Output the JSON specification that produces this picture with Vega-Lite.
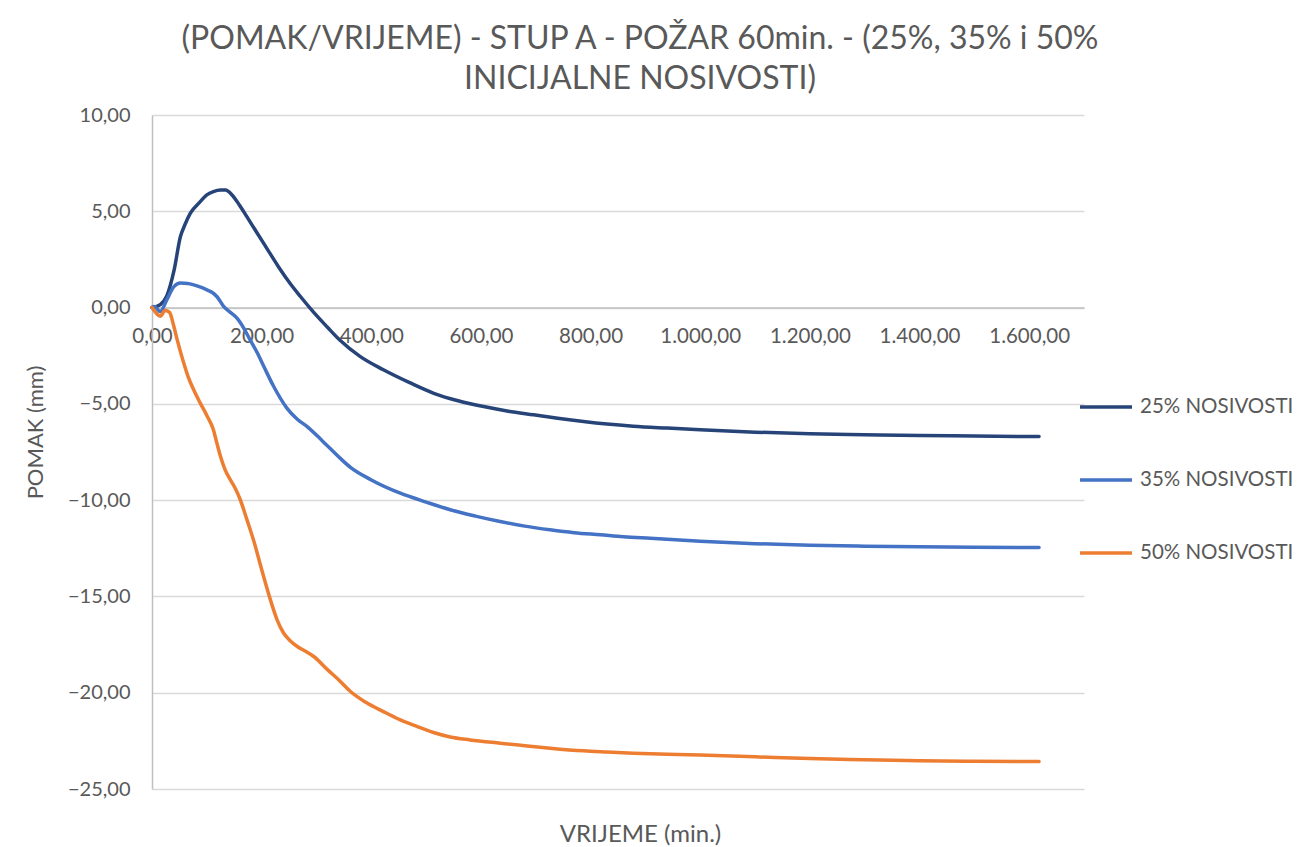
{
  "$schema": "https://vega.github.io/schema/vega-lite/v6.json",
  "width": 932,
  "height": 674,
  "autosize": {"type": "none"},
  "padding": {"left": 152, "top": 115, "right": 223, "bottom": 58},
  "background": "white",
  "config": {
    "locale": {"number": {"decimal": ",", "thousands": ".", "grouping": [3], "currency": ["", " €"]}},
    "font": "Lato",
    "view": {"stroke": null}
  },
  "title": {
    "text": ["(POMAK/VRIJEME) - STUP A - POŽAR 60min. - (25%, 35% i 50%", "INICIJALNE NOSIVOSTI)"],
    "font": "Lato",
    "fontSize": 32,
    "fontWeight": "normal",
    "color": "#595959",
    "anchor": "middle",
    "dx": 22,
    "lineHeight": 40,
    "offset": 9
  },
  "data": {
    "values": [
      {"t": 0, "v": 0, "s": "25% NOSIVOSTI"},
      {"t": 8, "v": 0.05, "s": "25% NOSIVOSTI"},
      {"t": 15, "v": 0.15, "s": "25% NOSIVOSTI"},
      {"t": 27, "v": 0.6, "s": "25% NOSIVOSTI"},
      {"t": 40, "v": 1.9, "s": "25% NOSIVOSTI"},
      {"t": 52, "v": 3.7, "s": "25% NOSIVOSTI"},
      {"t": 60, "v": 4.3, "s": "25% NOSIVOSTI"},
      {"t": 70, "v": 4.9, "s": "25% NOSIVOSTI"},
      {"t": 88, "v": 5.5, "s": "25% NOSIVOSTI"},
      {"t": 100, "v": 5.85, "s": "25% NOSIVOSTI"},
      {"t": 112, "v": 6.02, "s": "25% NOSIVOSTI"},
      {"t": 125, "v": 6.1, "s": "25% NOSIVOSTI"},
      {"t": 134, "v": 6.1, "s": "25% NOSIVOSTI"},
      {"t": 146, "v": 5.85, "s": "25% NOSIVOSTI"},
      {"t": 160, "v": 5.3, "s": "25% NOSIVOSTI"},
      {"t": 173, "v": 4.72, "s": "25% NOSIVOSTI"},
      {"t": 190, "v": 3.95, "s": "25% NOSIVOSTI"},
      {"t": 210, "v": 3.05, "s": "25% NOSIVOSTI"},
      {"t": 230, "v": 2.15, "s": "25% NOSIVOSTI"},
      {"t": 252, "v": 1.25, "s": "25% NOSIVOSTI"},
      {"t": 270, "v": 0.6, "s": "25% NOSIVOSTI"},
      {"t": 295, "v": -0.25, "s": "25% NOSIVOSTI"},
      {"t": 320, "v": -1.02, "s": "25% NOSIVOSTI"},
      {"t": 343, "v": -1.7, "s": "25% NOSIVOSTI"},
      {"t": 380, "v": -2.55, "s": "25% NOSIVOSTI"},
      {"t": 422, "v": -3.23, "s": "25% NOSIVOSTI"},
      {"t": 470, "v": -3.9, "s": "25% NOSIVOSTI"},
      {"t": 514, "v": -4.45, "s": "25% NOSIVOSTI"},
      {"t": 560, "v": -4.85, "s": "25% NOSIVOSTI"},
      {"t": 605, "v": -5.14, "s": "25% NOSIVOSTI"},
      {"t": 650, "v": -5.38, "s": "25% NOSIVOSTI"},
      {"t": 696, "v": -5.57, "s": "25% NOSIVOSTI"},
      {"t": 740, "v": -5.75, "s": "25% NOSIVOSTI"},
      {"t": 787, "v": -5.92, "s": "25% NOSIVOSTI"},
      {"t": 830, "v": -6.05, "s": "25% NOSIVOSTI"},
      {"t": 878, "v": -6.16, "s": "25% NOSIVOSTI"},
      {"t": 940, "v": -6.26, "s": "25% NOSIVOSTI"},
      {"t": 1000, "v": -6.35, "s": "25% NOSIVOSTI"},
      {"t": 1100, "v": -6.47, "s": "25% NOSIVOSTI"},
      {"t": 1200, "v": -6.55, "s": "25% NOSIVOSTI"},
      {"t": 1300, "v": -6.6, "s": "25% NOSIVOSTI"},
      {"t": 1400, "v": -6.64, "s": "25% NOSIVOSTI"},
      {"t": 1500, "v": -6.67, "s": "25% NOSIVOSTI"},
      {"t": 1618, "v": -6.7, "s": "25% NOSIVOSTI"},

      {"t": 0, "v": 0, "s": "35% NOSIVOSTI"},
      {"t": 4, "v": 0.05, "s": "35% NOSIVOSTI"},
      {"t": 15, "v": -0.2, "s": "35% NOSIVOSTI"},
      {"t": 27, "v": 0.4, "s": "35% NOSIVOSTI"},
      {"t": 40, "v": 1.09, "s": "35% NOSIVOSTI"},
      {"t": 52, "v": 1.27, "s": "35% NOSIVOSTI"},
      {"t": 65, "v": 1.25, "s": "35% NOSIVOSTI"},
      {"t": 76, "v": 1.18, "s": "35% NOSIVOSTI"},
      {"t": 90, "v": 1.05, "s": "35% NOSIVOSTI"},
      {"t": 100, "v": 0.92, "s": "35% NOSIVOSTI"},
      {"t": 110, "v": 0.78, "s": "35% NOSIVOSTI"},
      {"t": 119, "v": 0.55, "s": "35% NOSIVOSTI"},
      {"t": 131, "v": 0.05, "s": "35% NOSIVOSTI"},
      {"t": 143, "v": -0.25, "s": "35% NOSIVOSTI"},
      {"t": 155, "v": -0.55, "s": "35% NOSIVOSTI"},
      {"t": 167, "v": -1.05, "s": "35% NOSIVOSTI"},
      {"t": 179, "v": -1.68, "s": "35% NOSIVOSTI"},
      {"t": 192, "v": -2.35, "s": "35% NOSIVOSTI"},
      {"t": 204, "v": -3.06, "s": "35% NOSIVOSTI"},
      {"t": 222, "v": -4.1, "s": "35% NOSIVOSTI"},
      {"t": 246, "v": -5.22, "s": "35% NOSIVOSTI"},
      {"t": 265, "v": -5.8, "s": "35% NOSIVOSTI"},
      {"t": 283, "v": -6.18, "s": "35% NOSIVOSTI"},
      {"t": 310, "v": -6.9, "s": "35% NOSIVOSTI"},
      {"t": 343, "v": -7.82, "s": "35% NOSIVOSTI"},
      {"t": 362, "v": -8.3, "s": "35% NOSIVOSTI"},
      {"t": 400, "v": -8.95, "s": "35% NOSIVOSTI"},
      {"t": 453, "v": -9.64, "s": "35% NOSIVOSTI"},
      {"t": 500, "v": -10.1, "s": "35% NOSIVOSTI"},
      {"t": 544, "v": -10.5, "s": "35% NOSIVOSTI"},
      {"t": 590, "v": -10.83, "s": "35% NOSIVOSTI"},
      {"t": 635, "v": -11.11, "s": "35% NOSIVOSTI"},
      {"t": 680, "v": -11.35, "s": "35% NOSIVOSTI"},
      {"t": 726, "v": -11.54, "s": "35% NOSIVOSTI"},
      {"t": 770, "v": -11.69, "s": "35% NOSIVOSTI"},
      {"t": 818, "v": -11.8, "s": "35% NOSIVOSTI"},
      {"t": 860, "v": -11.9, "s": "35% NOSIVOSTI"},
      {"t": 909, "v": -11.98, "s": "35% NOSIVOSTI"},
      {"t": 1000, "v": -12.13, "s": "35% NOSIVOSTI"},
      {"t": 1100, "v": -12.26, "s": "35% NOSIVOSTI"},
      {"t": 1200, "v": -12.34, "s": "35% NOSIVOSTI"},
      {"t": 1300, "v": -12.39, "s": "35% NOSIVOSTI"},
      {"t": 1400, "v": -12.42, "s": "35% NOSIVOSTI"},
      {"t": 1500, "v": -12.45, "s": "35% NOSIVOSTI"},
      {"t": 1618, "v": -12.46, "s": "35% NOSIVOSTI"},

      {"t": 0, "v": 0, "s": "50% NOSIVOSTI"},
      {"t": 8, "v": -0.3, "s": "50% NOSIVOSTI"},
      {"t": 15, "v": -0.45, "s": "50% NOSIVOSTI"},
      {"t": 24, "v": -0.15, "s": "50% NOSIVOSTI"},
      {"t": 32, "v": -0.25, "s": "50% NOSIVOSTI"},
      {"t": 40, "v": -1.0, "s": "50% NOSIVOSTI"},
      {"t": 46, "v": -1.68, "s": "50% NOSIVOSTI"},
      {"t": 58, "v": -2.89, "s": "50% NOSIVOSTI"},
      {"t": 66, "v": -3.6, "s": "50% NOSIVOSTI"},
      {"t": 76, "v": -4.27, "s": "50% NOSIVOSTI"},
      {"t": 88, "v": -4.96, "s": "50% NOSIVOSTI"},
      {"t": 100, "v": -5.6, "s": "50% NOSIVOSTI"},
      {"t": 112, "v": -6.35, "s": "50% NOSIVOSTI"},
      {"t": 118, "v": -7.0, "s": "50% NOSIVOSTI"},
      {"t": 125, "v": -7.74, "s": "50% NOSIVOSTI"},
      {"t": 133, "v": -8.4, "s": "50% NOSIVOSTI"},
      {"t": 143, "v": -8.95, "s": "50% NOSIVOSTI"},
      {"t": 152, "v": -9.4, "s": "50% NOSIVOSTI"},
      {"t": 161, "v": -9.98, "s": "50% NOSIVOSTI"},
      {"t": 173, "v": -11.0, "s": "50% NOSIVOSTI"},
      {"t": 185, "v": -12.06, "s": "50% NOSIVOSTI"},
      {"t": 200, "v": -13.6, "s": "50% NOSIVOSTI"},
      {"t": 216, "v": -15.18, "s": "50% NOSIVOSTI"},
      {"t": 228, "v": -16.2, "s": "50% NOSIVOSTI"},
      {"t": 240, "v": -16.9, "s": "50% NOSIVOSTI"},
      {"t": 252, "v": -17.3, "s": "50% NOSIVOSTI"},
      {"t": 265, "v": -17.6, "s": "50% NOSIVOSTI"},
      {"t": 280, "v": -17.85, "s": "50% NOSIVOSTI"},
      {"t": 295, "v": -18.12, "s": "50% NOSIVOSTI"},
      {"t": 320, "v": -18.8, "s": "50% NOSIVOSTI"},
      {"t": 343, "v": -19.4, "s": "50% NOSIVOSTI"},
      {"t": 362, "v": -19.94, "s": "50% NOSIVOSTI"},
      {"t": 390, "v": -20.5, "s": "50% NOSIVOSTI"},
      {"t": 422, "v": -20.98, "s": "50% NOSIVOSTI"},
      {"t": 452, "v": -21.4, "s": "50% NOSIVOSTI"},
      {"t": 483, "v": -21.75, "s": "50% NOSIVOSTI"},
      {"t": 515, "v": -22.08, "s": "50% NOSIVOSTI"},
      {"t": 544, "v": -22.3, "s": "50% NOSIVOSTI"},
      {"t": 580, "v": -22.45, "s": "50% NOSIVOSTI"},
      {"t": 635, "v": -22.62, "s": "50% NOSIVOSTI"},
      {"t": 680, "v": -22.75, "s": "50% NOSIVOSTI"},
      {"t": 726, "v": -22.88, "s": "50% NOSIVOSTI"},
      {"t": 787, "v": -23.02, "s": "50% NOSIVOSTI"},
      {"t": 830, "v": -23.08, "s": "50% NOSIVOSTI"},
      {"t": 878, "v": -23.14, "s": "50% NOSIVOSTI"},
      {"t": 940, "v": -23.2, "s": "50% NOSIVOSTI"},
      {"t": 1000, "v": -23.24, "s": "50% NOSIVOSTI"},
      {"t": 1100, "v": -23.33, "s": "50% NOSIVOSTI"},
      {"t": 1200, "v": -23.42, "s": "50% NOSIVOSTI"},
      {"t": 1300, "v": -23.48, "s": "50% NOSIVOSTI"},
      {"t": 1400, "v": -23.53, "s": "50% NOSIVOSTI"},
      {"t": 1500, "v": -23.56, "s": "50% NOSIVOSTI"},
      {"t": 1618, "v": -23.57, "s": "50% NOSIVOSTI"}
    ]
  },
  "mark": {"type": "line", "interpolate": "monotone", "strokeWidth": 3.5, "strokeCap": "round"},
  "encoding": {
    "x": {
      "field": "t",
      "type": "quantitative",
      "scale": {"domain": [0, 1700], "nice": false, "zero": false},
      "axis": {
        "values": [0, 200, 400, 600, 800, 1000, 1200, 1400, 1600],
        "format": ",.2f",
        "offset": -481.5,
        "grid": false,
        "ticks": false,
        "domainColor": "#bfbfbf",
        "domainWidth": 1.5,
        "labelFont": "Lato",
        "labelFontSize": 20.5,
        "labelColor": "#595959",
        "labelPadding": 19,
        "labelFlush": false,
        "labelOverlap": false,
        "title": "VRIJEME (min.)",
        "titleFont": "Lato",
        "titleFontSize": 24,
        "titleFontWeight": "normal",
        "titleColor": "#595959",
        "titleX": 488,
        "titleY": 527,
        "titleBaseline": "middle"
      }
    },
    "y": {
      "field": "v",
      "type": "quantitative",
      "scale": {"domain": [-25, 10], "nice": false, "zero": false},
      "axis": {
        "values": [-25, -20, -15, -10, -5, 0, 5, 10],
        "format": ",.2f",
        "grid": true,
        "gridColor": "#d9d9d9",
        "gridWidth": 1.5,
        "ticks": false,
        "domainColor": "#bfbfbf",
        "domainWidth": 1.5,
        "labelFont": "Lato",
        "labelFontSize": 20,
        "labelColor": "#595959",
        "labelPadding": 22,
        "labelOverlap": false,
        "title": "POMAK (mm)",
        "titleFont": "Lato",
        "titleFontSize": 22,
        "titleFontWeight": "normal",
        "titleColor": "#595959",
        "titleX": -117,
        "titleY": 317,
        "titleAngle": -90,
        "titleBaseline": "middle",
        "titleAlign": "center"
      }
    },
    "color": {
      "field": "s",
      "type": "nominal",
      "scale": {
        "domain": ["25% NOSIVOSTI", "35% NOSIVOSTI", "50% NOSIVOSTI"],
        "range": ["#264478", "#4472C4", "#ED7D31"]
      },
      "legend": {
        "title": null,
        "orient": "none",
        "legendX": 926,
        "legendY": 264,
        "symbolType": "stroke",
        "symbolSize": 2704,
        "symbolStrokeWidth": 3.5,
        "rowPadding": 34,
        "labelFont": "Lato",
        "labelFontSize": 20.5,
        "labelColor": "#595959",
        "labelOffset": 6
      }
    }
  }
}
